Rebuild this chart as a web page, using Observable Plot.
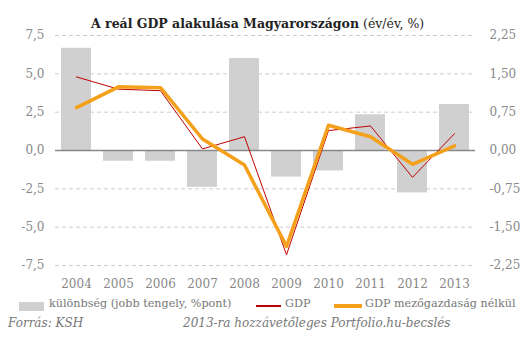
<!DOCTYPE html>
<html><head><meta charset="utf-8">
<script src="https://cdn.jsdelivr.net/npm/d3@7"></script>
<script src="https://cdn.jsdelivr.net/npm/@observablehq/plot@0.6"></script>
<style>
body{margin:0;background:#fff;}
#wrap{position:relative;width:530px;height:341px;font-family:"DejaVu Serif",serif;overflow:hidden;}
#title{position:absolute;top:16px;left:91px;font-size:12.5px;color:#222;white-space:nowrap;}
#title b{font-weight:bold;}
.leg{position:absolute;top:297px;font-size:11.2px;color:#777;white-space:nowrap;}
.sw{position:absolute;}
.cap{position:absolute;top:316px;font-size:12px;font-style:italic;color:#777;white-space:nowrap;}
#chart{position:absolute;top:0;left:0;}
</style></head>
<body><div id="wrap">
<div id="chart"></div>
<div id="title"><b>A reál GDP alakulása Magyarországon</b> (év/év, %)</div>
<div class="sw" style="left:19px;top:302px;width:25px;height:9px;background:#d0d0d0"></div>
<div class="leg" style="left:49px">különbség (jobb tengely, %pont)</div>
<div class="sw" style="left:256px;top:305px;width:25px;height:1.5px;background:#c00000"></div>
<div class="leg" style="left:285px">GDP</div>
<div class="sw" style="left:334px;top:304px;width:28px;height:3.5px;background:#f5a01a"></div>
<div class="leg" style="left:365px">GDP mezőgazdaság nélkül</div>
<div class="cap" style="left:8px">Forrás: KSH</div>
<div class="cap" style="left:183px">2013-ra hozzávetőleges Portfolio.hu-becslés</div>
</div>
<script>
const years = ["2004","2005","2006","2007","2008","2009","2010","2011","2012","2013"];
const gdp = [4.8, 4.0, 3.9, 0.1, 0.9, -6.8, 1.3, 1.6, -1.75, 1.1];
const gdpNoAgri = [2.8, 4.15, 4.1, 0.75, -0.95, -6.25, 1.65, 0.9, -0.9, 0.3];
const diff = [2.0, -0.21, -0.21, -0.72, 1.8, -0.52, -0.4, 0.7, -0.83, 0.9];
const leftTicks = [-7.5, -5, -2.5, 0, 2.5, 5, 7.5];
const ratio = 0.3; // right axis = left axis * 0.3

const rows = years.map((y, i) => ({year: y, gdp: gdp[i], noAgri: gdpNoAgri[i], diff: diff[i]}));
const comma = (s) => s.replace(".", ",").replace("−", "-");
const fmtL = d => comma(d3.format(".1f")(d));
const fmtR = d => comma(d3.format(".2f")(d * ratio));

const plot = Plot.plot({
  width: 530, height: 295,
  marginLeft: 55, marginRight: 55, marginTop: 35, marginBottom: 30,
  style: {fontFamily: "DejaVu Serif, serif", fontSize: "12px", color: "#888", background: "transparent"},
  x: {domain: years, paddingInner: 0.286, paddingOuter: 0.143, axis: null},
  y: {domain: [-7.5, 7.5], axis: null},
  marks: [
    Plot.ruleY(leftTicks.filter(d => d !== 0), {stroke: "#ccc", strokeDasharray: "4,3", strokeWidth: 1}),
    Plot.barY(rows, {x: "year", y: d => d.diff / ratio, fill: "#d0d0d0"}),
    Plot.ruleY([0], {stroke: "#888", strokeWidth: 1.5}),
    Plot.lineY(rows, {x: "year", y: "gdp", stroke: "#c00000", strokeWidth: 1}),
    Plot.lineY(rows, {x: "year", y: "noAgri", stroke: "#f5a01a", strokeWidth: 3.5}),
    Plot.axisY({ticks: leftTicks, tickFormat: fmtL, tickSize: 0, tickPadding: 11, anchor: "left", fill: "#888", label: null}),
    Plot.axisY({ticks: leftTicks, tickFormat: fmtR, tickSize: 0, tickPadding: 14, anchor: "right", fill: "#888", label: null}),
    Plot.axisX({tickSize: 0, tickPadding: 14, fill: "#888", label: null})
  ]
});
document.getElementById("chart").appendChild(plot);
</script>
</body></html>
